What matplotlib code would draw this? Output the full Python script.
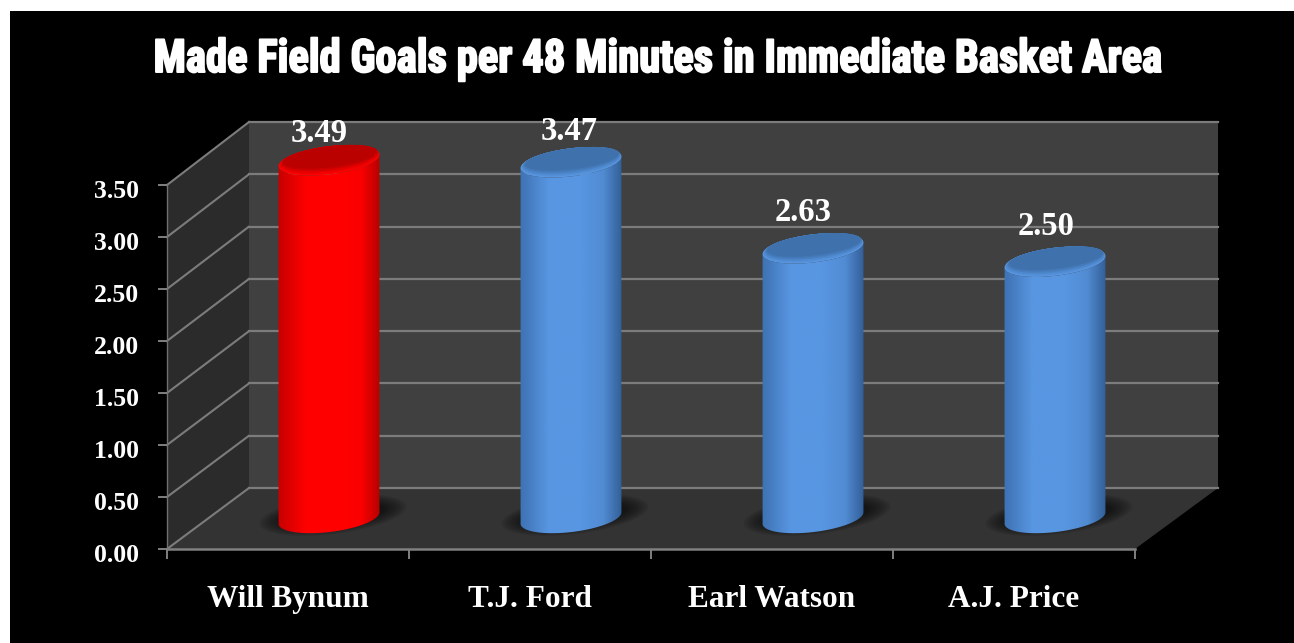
import numpy as np
import matplotlib
matplotlib.use('Agg')
import matplotlib.pyplot as plt
import matplotlib.patheffects as pe
from matplotlib.colors import LinearSegmentedColormap, to_rgb
from matplotlib.patches import Ellipse, PathPatch, Polygon, Rectangle
from matplotlib.path import Path
from matplotlib.transforms import Affine2D, IdentityTransform, ScaledTranslation

W, H = 1294, 643

# chart data
players = ['Will Bynum', 'T.J. Ford', 'Earl Watson', 'A.J. Price']
fg_per48 = [3.49, 3.47, 2.63, 2.50]
y_ticks = [0.0, 0.5, 1.0, 1.5, 2.0, 2.5, 3.0, 3.5]
title = 'Made Field Goals per 48 Minutes in Immediate Basket Area'

# colours of each cylinder: edge, middle, far edge, top face
red_bar = ['#c80000', '#ff0000', '#fa0000', '#b80000', '#bb0000']
blue_bar = ['#3e72b2', '#5896e2', '#518bd2', '#335f98', '#3f72ad']
bar_colors = [red_bar, blue_bar, blue_bar, blue_bar]
# data labels do not sit quite centred in the original
label_nudge = [(-10, 27), (-2, 31), (-10, 36), (-9, 35)]

serif = ['Liberation Serif', 'DejaVu Serif']
title_fonts = ['Roboto Condensed', 'Liberation Sans Narrow', 'DejaVu Sans']


class Squeeze(pe.AbstractPathEffect):
    # narrows and fattens the title so it looks like the heavy condensed original
    def __init__(self, sx, cx, weight):
        super().__init__()
        self.sx, self.cx, self.weight = sx, cx, weight

    def draw_path(self, renderer, gc, tpath, affine, rgbFace=None):
        squeeze = Affine2D().translate(-self.cx, 0).scale(self.sx, 1).translate(self.cx, 0)
        gc2 = renderer.new_gc()
        gc2.copy_properties(gc)
        gc2.set_linewidth(self.weight)
        gc2.set_foreground('white')
        renderer.draw_path(gc2, tpath, affine + squeeze, rgbFace)
        gc2.restore()


def axes_px(left, top, right, bottom):
    # axes rectangle from picture pixels (y counted from the top)
    return [left / W, 1 - bottom / H, (right - left) / W, (bottom - top) / H]


fig = plt.figure(figsize=(W / 100, H / 100), dpi=100, facecolor='white')

# black panel, pixel coordinates
bg = fig.add_axes([0, 0, 1, 1], zorder=0)
bg.set_xlim(0, W)
bg.set_ylim(H, 0)
bg.axis('off')
bg.add_patch(Rectangle((10, 11), W - 10, H - 11, color='black', lw=0))

# three planes of the fake 3D box: back wall, middle (bars), front (axis)
xlim = (0, len(players))
back = fig.add_axes(axes_px(249, 122, 1218, 488), zorder=1)
mid = fig.add_axes(axes_px(208, 518 - 3.5 * 102.5, 1176, 518), zorder=2)
front = fig.add_axes(axes_px(167, 185, 1135, 549), zorder=3)
for ax in (back, mid, front):
    ax.set_xlim(*xlim)
    ax.set_ylim(0, 3.5)
    ax.patch.set_alpha(0)

back.patch.set_alpha(1)
back.set_facecolor('#404040')
back.set_xticks([])
back.set_yticks(y_ticks)
back.tick_params(left=False, labelleft=False)
for s in back.spines.values():
    s.set_visible(False)
for t in y_ticks:
    back.axhline(t, color='#7c7c7c', lw=1.6, clip_on=False)

fig.canvas.draw()


def to_px(ax, x, y):
    return ax.transData.transform((x, y))


# side wall and floor, built from the two axes
fl = to_px(front, 0, 0)
ft = to_px(front, 0, 3.5)
fr = to_px(front, xlim[1], 0)
bl = to_px(back, 0, 0)
bt = to_px(back, 0, 3.5)
br = to_px(back, xlim[1], 0)
identity = IdentityTransform()
bg.add_patch(Polygon([fl, ft, bt, bl], closed=True, color='#2b2b2b', lw=0, transform=identity))
bg.add_patch(Polygon([fl, fr, br, bl], closed=True, color='#333333', lw=0, transform=identity, zorder=3))
for t in y_ticks:
    a, b = to_px(front, 0, t), to_px(back, 0, t)
    bg.plot([a[0], b[0]], [a[1], b[1]], color='#7c7c7c', lw=1.5, transform=identity, zorder=4)
bg.plot([fl[0], ft[0]], [fl[1], ft[1]], color='#707070', lw=1.0, transform=identity, zorder=4)

front.set_xticks(range(len(players) + 1))
front.set_xticklabels([])
front.set_yticks(y_ticks)
front.set_yticklabels(['%.2f' % t for t in y_ticks], color='white', fontsize=18.5,
                      fontweight='bold', family=serif)
front.tick_params(axis='both', color='#808080', width=1.4, length=9.5 * 0.72)
front.tick_params(axis='y', pad=13)
for lab in front.get_yticklabels():
    lab.set_transform(lab.get_transform() + ScaledTranslation(0, -3 / 72, fig.dpi_scale_trans))
for name, s in front.spines.items():
    s.set_visible(name == 'bottom')
    s.set_color('#808080')
    s.set_linewidth(1.8)
for i, name in enumerate(players):
    front.text(i + 0.5, -0.49, name, color='white', fontsize=22.5, fontweight='bold',
               family=serif, ha='center', va='center')

# cylinders
bar_width = 0.42
ell_h = 28
tilt = 7
for i, (val, cols) in enumerate(zip(fg_per48, bar_colors)):
    xc = i + 0.5
    cx0, cy0 = to_px(mid, xc, 0)
    cx1, cy1 = to_px(mid, xc, val)
    half = to_px(mid, xc + bar_width / 2, 0)[0] - cx0
    place0 = Affine2D().translate(cx0, cy0)
    place1 = Affine2D().translate(cx1, cy1)

    # soft shadow on the floor
    for k in range(8):
        mid.add_patch(Ellipse((4, 3), 2 * half + 46 - k * 6, 38 - k * 2.5, angle=tilt, color='black',
                              alpha=0.09, lw=0, transform=place0, zorder=1, clip_on=False))

    # body outline: bottom half ellipse + sides + top ellipse
    t = np.radians(tilt)
    ang = np.linspace(np.pi, 2 * np.pi, 40)
    ex = half * np.cos(ang)
    ey = ell_h / 2 * np.sin(ang)
    low = np.column_stack([ex * np.cos(t) - ey * np.sin(t) + cx0, ex * np.sin(t) + ey * np.cos(t) + cy0])
    top = np.column_stack([ex * np.cos(t) - ey * np.sin(t) + cx1, ex * np.sin(t) + ey * np.cos(t) + cy1])
    outline = np.vstack([low, top[::-1]])
    body = PathPatch(Path(np.vstack([outline, outline[0]]), closed=True), transform=identity,
                     facecolor='none', edgecolor='none', zorder=2, clip_on=False)
    mid.add_patch(body)

    cmap = LinearSegmentedColormap.from_list('cyl', [(0, cols[0]), (0.28, cols[1]), (0.6, cols[1]),
                                                     (0.82, cols[2]), (1, cols[3])])
    grad = np.linspace(0, 1, 128).reshape(1, -1)
    im = mid.imshow(grad, cmap=cmap, aspect='auto', zorder=2,
                    extent=(xc - bar_width / 2, xc + bar_width / 2, -0.3, val + 0.3))
    im.set_clip_box(fig.bbox)
    im.set_clip_path(body)

    # top face: lighter rim fading into the darker face
    rim, face = np.array(to_rgb(cols[1])), np.array(to_rgb(cols[4]))
    steps = 6
    for k in range(steps):
        f = k / (steps - 1)
        mid.add_patch(Ellipse((0.2 * k, 0.7 * k), 2 * half - 1.4 * k, ell_h - 1.4 * k, angle=tilt,
                              facecolor=rim * (1 - f) + face * f, lw=0,
                              transform=place1, zorder=3 + k * 0.1, clip_on=False))

    dx, dy = label_nudge[i]
    mid.annotate('%.2f' % val, (xc, val), xytext=(dx * 0.72, dy * 0.72), textcoords='offset points',
                 color='white', fontsize=23.5, fontweight='bold', family=serif,
                 ha='center', va='center', zorder=6, annotation_clip=False)

mid.set_xlim(*xlim)
mid.set_ylim(0, 3.5)
mid.set_xticks([])
mid.set_yticks([])
for s in mid.spines.values():
    s.set_visible(False)

fig.text(658.5 / W, 1 - 59 / H, title, color='white', fontsize=33, fontweight='bold',
         family=title_fonts, ha='center', va='center',
         path_effects=[Squeeze(0.93, 658.5, 1.4)])

fig.savefig('out.png', dpi=100, facecolor='white')
